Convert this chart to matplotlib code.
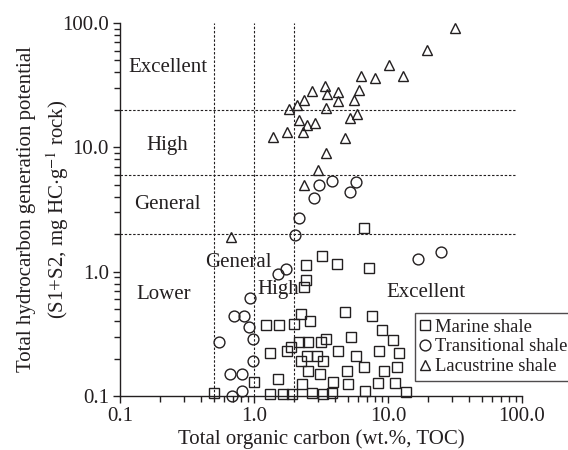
import numpy as np
import matplotlib
matplotlib.use("Agg")
import matplotlib.pyplot as plt
from matplotlib.ticker import FixedLocator, FixedFormatter, LogLocator, NullFormatter

plt.rcParams['font.family'] = ['Liberation Serif', 'DejaVu Serif']
plt.rcParams['mathtext.fontset'] = 'stix'

# ── Data (TOC wt.%, S1+S2 mg HC/g rock) ───────────────────────────────────────
marine_toc = [6.62, 3.22, 2.44, 4.16, 7.22, 2.44, 2.36, 2.24, 2.62, 4.78,
              7.60, 9.02, 5.29, 3.45, 10.9, 1.23, 1.54, 1.99, 2.53, 2.17,
              3.16, 1.89, 1.76, 1.32, 2.49, 2.95, 4.24, 5.77, 8.57, 12.1,
              2.24, 3.27, 6.62, 11.7, 2.53, 3.11, 4.94, 9.33, 3.89, 5.03,
              8.42, 11.3, 2.28, 1.00, 1.51, 0.50, 1.32, 1.65, 1.92, 2.71,
              3.27, 3.82, 6.74, 13.6]
marine_s12 = [2.25, 1.34, 1.13, 1.15, 1.07, 0.86, 0.75, 0.46, 0.40, 0.47,
              0.44, 0.34, 0.30, 0.29, 0.28, 0.37, 0.37, 0.38, 0.27, 0.27,
              0.27, 0.25, 0.23, 0.22, 0.21, 0.21, 0.23, 0.21, 0.23, 0.22,
              0.19, 0.19, 0.17, 0.17, 0.16, 0.15, 0.16, 0.16, 0.13, 0.125,
              0.127, 0.127, 0.125, 0.13, 0.137, 0.106, 0.104, 0.104, 0.104, 0.106,
              0.104, 0.106, 0.11, 0.108]

trans_toc = [3.06, 3.82, 2.80, 5.20, 5.77, 2.17, 2.02, 1.73, 1.51, 0.93,
             0.71, 0.84, 0.92, 0.98, 0.55, 0.98, 0.66, 0.81, 0.81, 0.69,
             16.7, 24.9]
trans_s12 = [5.0, 5.4, 3.9, 4.4, 5.3, 2.7, 1.97, 1.05, 0.96, 0.61,
             0.44, 0.44, 0.36, 0.29, 0.27, 0.19, 0.15, 0.15, 0.11, 0.10,
             1.27, 1.44]

lacus_toc = [1.39, 1.76, 1.83, 2.09, 2.36, 2.71, 3.39, 3.51, 4.24, 4.24,
             3.45, 2.17, 2.49, 2.85, 2.32, 3.45, 3.00, 2.36, 4.78, 6.29,
             6.08, 5.58, 5.20, 5.87, 8.0, 10.2, 12.9, 19.5, 31.6, 0.67]
lacus_s12 = [12.1, 13.3, 20.4, 21.9, 24.1, 28.4, 31.2, 26.9, 27.9, 23.6,
             20.7, 16.6, 15.1, 15.7, 13.3, 9.0, 6.6, 5.0, 11.9, 37.5,
             29.0, 24.1, 17.2, 18.6, 36.2, 46.0, 37.5, 60.8, 91.3, 1.9]

toc_limits = [0.5, 1.0, 2.0]
s12_limits = [2.0, 6.0, 20.0]
tick_vals = [0.1, 1.0, 10.0, 100.0]
tick_labels = ["0.1", "1.0", "10.0", "100.0"]

INK = "#231f20"

fig = plt.figure(figsize=(5.68, 4.5), dpi=100)
ax = fig.add_axes([0.2113, 0.12, 0.7077, 0.829])

ax.set_xscale("log")
ax.set_yscale("log")
ax.set_xlim(0.1, 100)
ax.set_ylim(0.1, 100)

# ── Dashed classification lines ───────────────────────────────────────────────
dash = (0, (2.2, 1.6))
for v in toc_limits:
    ax.plot([v, v], [0.1, 100], color=INK, lw=0.8, ls=dash, zorder=1)
for h in s12_limits:
    ax.plot([0.1, 89], [h, h], color=INK, lw=0.8, ls=dash, zorder=1)

# ── Scatter ───────────────────────────────────────────────────────────────────
mk = dict(ls="none", mfc="none", mec=INK, mew=1.0, clip_on=False, zorder=3)
ax.plot(marine_toc, marine_s12, marker="s", ms=7.2, label="Marine shale", **mk)
ax.plot(trans_toc, trans_s12, marker="o", ms=7.8, label="Transitional shale", **mk)
ax.plot(lacus_toc, lacus_s12, marker="^", ms=7.8, label="Lacustrine shale", **mk)

# ── Region labels ─────────────────────────────────────────────────────────────
fs = 15
ax.text(0.228, 43.5, "Excellent", fontsize=fs, ha="center", va="center", color=INK)
ax.text(0.224, 10.3, "High", fontsize=fs, ha="center", va="center", color=INK)
ax.text(0.224, 3.44, "General", fontsize=fs, ha="center", va="center", color=INK)
ax.text(0.21, 0.661, "Lower", fontsize=fs, ha="center", va="center", color=INK)
ax.text(0.76, 1.175, "General", fontsize=fs, ha="center", va="center", color=INK)
ax.text(1.51, 0.713, "High", fontsize=fs, ha="center", va="center", color=INK)
ax.text(19.2, 0.686, "Excellent", fontsize=fs, ha="center", va="center", color=INK)

# ── Axes styling ──────────────────────────────────────────────────────────────
for s in ["top", "right"]:
    ax.spines[s].set_visible(False)
for s in ["left", "bottom"]:
    ax.spines[s].set_color(INK)
    ax.spines[s].set_linewidth(1.0)

for axis in [ax.xaxis, ax.yaxis]:
    axis.set_major_locator(FixedLocator(tick_vals))
    axis.set_major_formatter(FixedFormatter(tick_labels))
    axis.set_minor_locator(LogLocator(base=10, subs=np.arange(2, 10)))
    axis.set_minor_formatter(NullFormatter())

ax.tick_params(which="major", direction="out", length=5, width=1.0, color=INK,
               labelsize=15, labelcolor=INK, pad=3)
ax.tick_params(which="minor", direction="out", length=4, width=1.0, color=INK)

ax.set_xlabel("Total organic carbon (wt.%, TOC)", fontsize=15, color=INK, labelpad=2)
ax.set_ylabel("Total hydrocarbon generation potential\n(S1+S2, mg HC$\\cdot$g$^{-1}$ rock)",
              fontsize=15, color=INK, linespacing=1.4)
ax.yaxis.set_label_coords(-0.122, 0.5)

leg = ax.legend(loc="upper left", bbox_to_anchor=(415 / 568, 1 - 313 / 450),
                bbox_transform=fig.transFigure, fontsize=13.4, frameon=True,
                fancybox=False, edgecolor=INK, handlelength=0.5,
                handletextpad=0.25, borderpad=0.3, labelspacing=0.15,
                borderaxespad=0)
leg.get_frame().set_linewidth(1.0)
for t in leg.get_texts():
    t.set_color(INK)

plt.savefig("out.png", dpi=100, facecolor="white")
